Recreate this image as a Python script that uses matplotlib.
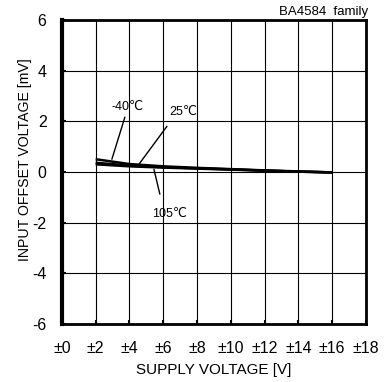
import matplotlib
matplotlib.use("Agg")
import matplotlib.pyplot as plt

plt.rcParams["font.family"] = ["Liberation Sans", "DejaVu Sans"]

# supply voltage (±V) and input offset voltage (mV) per temperature
vsup = [2, 4, 6, 8, 10, 12, 14, 16]
vio_m40 = [0.50, 0.31, 0.22, 0.16, 0.11, 0.06, 0.02, -0.02]
vio_25 = [0.36, 0.25, 0.19, 0.14, 0.10, 0.05, 0.01, -0.02]
vio_105 = [0.30, 0.22, 0.17, 0.13, 0.09, 0.05, 0.01, -0.02]

xticks = list(range(0, 19, 2))
xlabels = ["±%d" % v for v in xticks]
yticks = list(range(-6, 7, 2))
ylabels = [str(v) for v in yticks]  # plain hyphen minus, as in the datasheet

# curve labels: text position, leader start, leader end (data coords)
temp_labels = [
    ("-40\u2103", (3.9, 2.55), (3.73, 2.16), (2.96, 0.50)),
    ("25\u2103", (7.16, 2.35), (6.22, 1.80), (4.56, 0.30)),
    ("105\u2103", (6.39, -1.67), (5.80, -0.88), (5.45, 0.10)),
]

fig = plt.figure(figsize=(3.89, 3.82), dpi=100)
ax = fig.add_axes([0.159, 0.152, 0.782, 0.796])

for y in (vio_m40, vio_25, vio_105):
    ax.plot(vsup, y, color="black", lw=1.8, solid_capstyle="butt")

ax.set_xlim(0, 18)
ax.set_ylim(-6, 6)
ax.set_xticks(xticks)
ax.set_xticklabels(xlabels)
ax.set_yticks(yticks)
ax.set_yticklabels(ylabels)
ax.grid(True, color="black", lw=0.8)
ax.tick_params(direction="in", length=3, width=1.5, labelsize=11.5)
ax.tick_params(axis="x", pad=12)
ax.tick_params(axis="y", pad=11)
for s in ax.spines.values():
    s.set_linewidth(2)
ax.spines["left"].set_linewidth(3)

ax.set_xlabel("SUPPLY VOLTAGE [V]", fontsize=11, labelpad=5)
ax.set_ylabel("INPUT OFFSET VOLTAGE [mV]", fontsize=10.2)
ax.yaxis.set_label_coords(-0.097, 0.54)

for txt, pos, start, end in temp_labels:
    ax.text(pos[0], pos[1], txt, fontsize=9, ha="center", va="center")
    ax.annotate("", xy=end, xytext=start,
                arrowprops=dict(arrowstyle="-", color="black", lw=1.0,
                                shrinkA=0, shrinkB=0))

fig.text(0.946, 0.968, "BA4584  family", fontsize=9.5, ha="right", va="center")

fig.savefig("out.png", dpi=100)
